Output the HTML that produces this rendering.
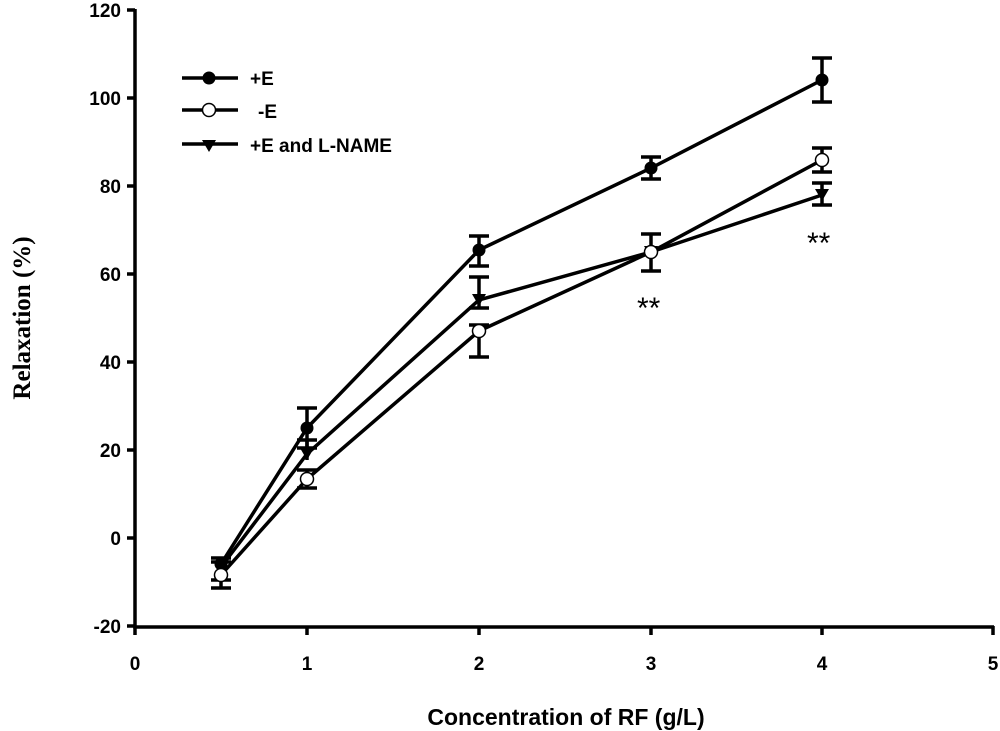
<!DOCTYPE html>
<html><head><meta charset="utf-8"><style>body{margin:0;background:#fff}svg{display:block}</style></head>
<body>
<svg width="1000" height="731" xmlns="http://www.w3.org/2000/svg" font-family="Liberation Sans, sans-serif">
<g stroke="#000" stroke-width="3.5" fill="none">
<path d="M135,9 V627 H994"/>
<path d="M127,10H135M127,98H135M127,186H135M127,274H135M127,362H135M127,450H135M127,538H135M127,626H135"/>
<path d="M135,626V635M307,626V635M479,626V635M651,626V635M822,626V635M993,626V635"/>
<polyline points="221,564 307,428 479,250 651,168 822,80"/>
<polyline points="221,575 307,479 479,331 651,252 822,160"/>
<polyline points="221,567 307,454 479,300 651,252 822,195"/>
<path d="M307,408V448M297,408H317M297,448H317"/>
<path d="M479,236V266M469,236H489M469,266H489"/>
<path d="M651,157V179M641,157H661M641,179H661"/>
<path d="M822,58V102M812,58H832M812,102H832"/>
<path d="M479,277V308M469,277H489M469,308H489"/>
<path d="M479,325V357M469,325H489M469,357H489"/>
<path d="M307,470V488M297,470H317M297,488H317"/>
<path d="M822,148V172M812,148H832M812,172H832"/>
<path d="M651,234V271M641,234H661M641,271H661"/>
<path d="M822,183V205M812,183H832M812,205H832"/>
<path d="M307,440V460M297,440H317"/>
<path d="M221,558V588M211,558H231M211,588H231M211,562H231M211,580H231"/>
</g>
<g fill="#000">
<circle cx="221" cy="564" r="6.5"/><circle cx="307" cy="428" r="6.5"/><circle cx="479" cy="250" r="6.5"/><circle cx="651" cy="168" r="6.5"/><circle cx="822" cy="80" r="6.5"/>
<path d="M214,562h14l-7,12z M300,448h14l-7,12z M472,294h14l-7,12z M644,246h14l-7,12z M815,189h14l-7,12z"/>
</g>
<g fill="#fff" stroke="#000" stroke-width="1.5">
<circle cx="221" cy="575" r="6.5"/><circle cx="307" cy="479" r="6.5"/><circle cx="479" cy="331" r="6.5"/><circle cx="651" cy="252" r="6.5"/><circle cx="822" cy="160" r="6.5"/>
</g>
<g stroke="#000" stroke-width="3.5"><path d="M182,78H238M182,110H238M182,144H238"/></g>
<circle cx="209" cy="78" r="6.5"/>
<circle cx="209" cy="110" r="6.5" fill="#fff" stroke="#000" stroke-width="1.5"/>
<path d="M202,140h14l-7,12z"/>
<g font-size="19" font-weight="bold">
<text x="250" y="85">+E</text><text x="258" y="118">-E</text><text x="250" y="152">+E and L-NAME</text>
</g>
<text x="637" y="318" font-size="30">**</text>
<text x="807" y="253" font-size="30">**</text>
<g font-size="19" font-weight="bold" text-anchor="end">
<text x="121" y="17">120</text><text x="121" y="105">100</text><text x="121" y="193">80</text><text x="121" y="281">60</text><text x="121" y="369">40</text><text x="121" y="457">20</text><text x="121" y="545">0</text><text x="121" y="633">-20</text>
</g>
<g font-size="19" font-weight="bold" text-anchor="middle">
<text x="135" y="670">0</text><text x="307" y="670">1</text><text x="479" y="670">2</text><text x="651" y="670">3</text><text x="822" y="670">4</text><text x="993" y="670">5</text>
<text x="566" y="725" font-size="23">Concentration of RF (g/L)</text>
</g>
<text transform="translate(30,318) rotate(-90)" text-anchor="middle" font-family="Liberation Serif, serif" font-size="25" font-weight="bold">Relaxation (%)</text>
</svg>
</body></html>
